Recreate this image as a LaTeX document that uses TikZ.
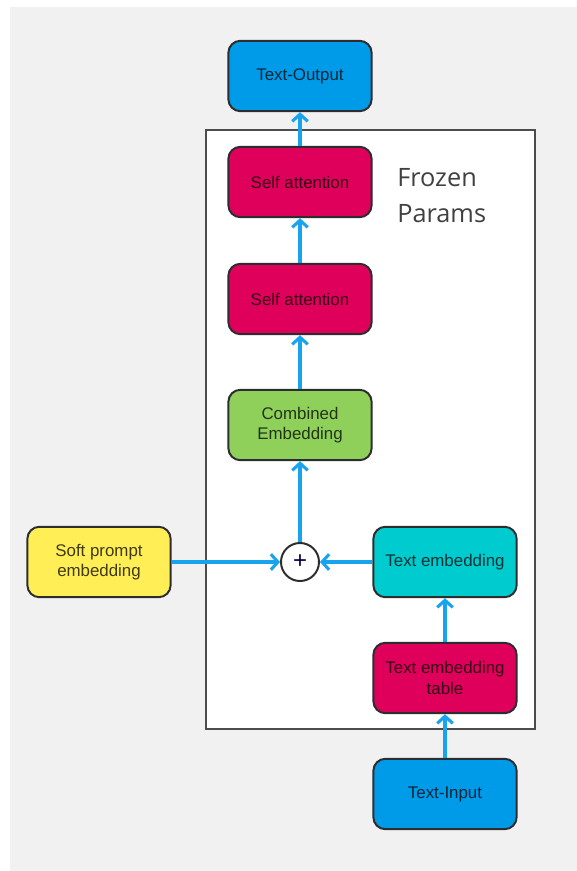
\documentclass[tikz,border=0pt]{standalone}
\usepackage{fontspec}
\setmainfont{Liberation Sans}
\newfontfamily\labelfont{Open Sans}
\usetikzlibrary{arrows.meta}

\definecolor{panelgray}{RGB}{241,241,241}
\definecolor{boxline}{RGB}{45,45,48}
\definecolor{tealblue}{RGB}{0,155,232}
\definecolor{crimson}{RGB}{222,0,90}
\definecolor{leafgreen}{RGB}{142,208,90}
\definecolor{aqua}{RGB}{0,203,207}
\definecolor{lemon}{RGB}{255,238,85}
\definecolor{flow}{RGB}{24,163,238}

\tikzset{
  block/.style={rectangle, rounded corners=0.3cm, draw=boxline, line width=1.4pt,
    minimum width=3.58cm, minimum height=1.76cm, align=center,
    font=\fontsize{12}{14.5}\selectfont},
  flowarrow/.style={draw=flow, line width=2.2pt, -{Straight Barb[length=5pt,width=11pt]}}
}

\begin{document}
\begin{tikzpicture}[x=0.025cm, y=-0.025cm]

  \fill[white] (0,0) rectangle (577,871);
  \useasboundingbox (0,0) rectangle (577,871);
  \fill[panelgray] (10,7) rectangle (577,871);

  % frozen part of the model
  \draw[fill=white, draw=black!70, line width=2pt] (206,130) rectangle (535,729);
  \node[anchor=north west, align=left, text=black!75, inner sep=0pt,
        font=\labelfont\fontsize{18}{25.5}\selectfont] (frozen) at (397,168) {Frozen\\Params};

  \foreach \x/\y/\c/\n/\t in {300/76/tealblue/TO/Text-Output, 300/182/crimson/SA1/Self attention,
      300/299/crimson/SA2/Self attention, 300/425/leafgreen/CE/{Combined\\Embedding},
      99/562/lemon/SP/{Soft prompt\\embedding}, 445/562/aqua/TE/Text embedding,
      445/678/crimson/TET/{Text embedding\\table}, 445/794/tealblue/TI/Text-Input}
    \node[block, fill=\c, text=\c!25!black] (\n) at (\x,\y) {\t};

  \node[circle, draw=boxline, fill=white, line width=1.4pt, minimum size=0.95cm,
        inner sep=0pt, text=black!70!blue, font=\fontsize{17}{17}\selectfont] (plus) at (300,562) {+};

  \foreach \i/\j in {TI/TET, TET/TE, TE/plus, SP/plus, plus/CE, CE/SA2, SA2/SA1, SA1/TO}
    \draw[flowarrow] (\i) -- (\j);

\end{tikzpicture}
\end{document}
